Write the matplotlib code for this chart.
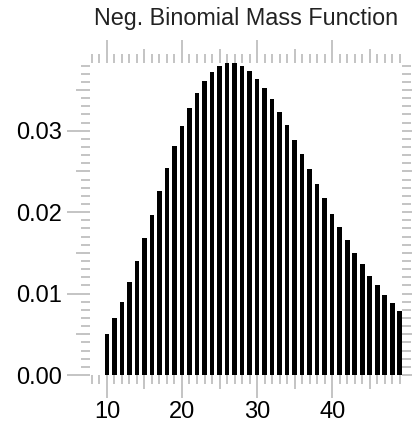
import matplotlib
matplotlib.use("Agg")
import matplotlib.pyplot as plt
import numpy as np

# values
counts = list(range(10, 50))
mass = [
    0.00499, 0.00695, 0.00900, 0.01137, 0.01403, 0.01685, 0.01971, 0.02262,
    0.02544, 0.02814, 0.03060, 0.03280, 0.03460, 0.03610, 0.03720, 0.03800,
    0.03836, 0.03836, 0.03800, 0.03734, 0.03640, 0.03526, 0.03390, 0.03230,
    0.03070, 0.02890, 0.02710, 0.02530, 0.02350, 0.02170, 0.01980, 0.01820,
    0.01660, 0.01500, 0.01360, 0.01220, 0.01100, 0.00980, 0.00880, 0.00780,
]
x_major = [10, 20, 30, 40]
x_mid = [15, 25, 35, 45]
y_major = [0.00, 0.01, 0.02, 0.03]
y_mid = [0.005, 0.015, 0.025, 0.035]

TICK_COLOR = "#c4c4c4"

plt.rcParams["font.family"] = ["Liberation Sans", "DejaVu Sans"]

fig = plt.figure(figsize=(4.12, 4.22), dpi=100)
ax = fig.add_axes([90 / 412, 1 - 375 / 422, 312 / 412, 312.3 / 422])

ax.bar(counts, mass, width=0.62, color="black", linewidth=0)

ax.set_xlim(7.75, 49.3)
ax.set_ylim(0, max(mass))

for s in ax.spines.values():
    s.set_visible(False)

ax.set_xticks(x_major)
ax.set_xticks(np.arange(8, 50), minor=True)
ax.set_yticks(y_major)
ax.set_yticks(np.arange(0, 0.0385, 0.001), minor=True)
ax.set_xticklabels([str(v) for v in x_major])
ax.set_yticklabels([f"{v:.2f}" for v in y_major])

ax.tick_params(which="both", direction="out", color=TICK_COLOR, width=1.4,
               top=True, right=True, labelsize=17)
ax.tick_params(which="major", length=16.5)
ax.tick_params(which="minor", length=6.5)
ax.tick_params(axis="y", which="major", pad=4)
ax.tick_params(axis="x", which="major", pad=2)

# medium ticks at the halfway marks
for side in ("bottom", "top"):
    sec = ax.secondary_xaxis(side)
    sec.set_xticks(x_mid)
    sec.tick_params(direction="out", color=TICK_COLOR, width=1.4, length=10,
                    labelbottom=False, labeltop=False)
    sec.spines[side].set_visible(False)
for side in ("left", "right"):
    sec = ax.secondary_yaxis(side)
    sec.set_yticks(y_mid)
    sec.tick_params(direction="out", color=TICK_COLOR, width=1.4, length=10,
                    labelleft=False, labelright=False)
    sec.spines[side].set_visible(False)

fig.text(246 / 412, 1 - 19 / 422, "Neg. Binomial Mass Function",
         ha="center", va="center", fontsize=16.8, color="#222222")

fig.savefig("out.png", dpi=100)
